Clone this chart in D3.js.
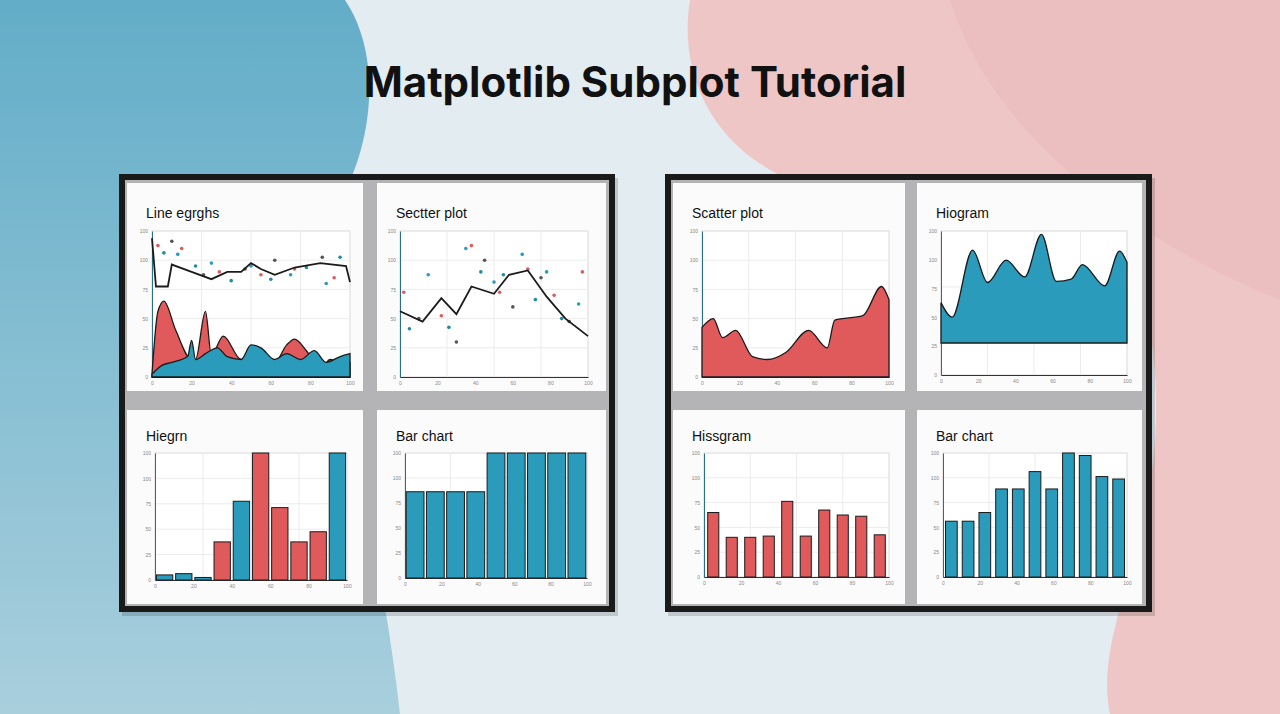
<!DOCTYPE html><html><head><meta charset="utf-8">
<script src="https://cdn.jsdelivr.net/npm/d3@7"></script>
<style>body{margin:0;overflow:hidden}svg{display:block}</style></head><body>
<svg id="c" width="1280" height="714"></svg>
<script>
const title="Matplotlib Subplot Tutorial";
const panelTitles=["Line egrghs","Sectter plot","Hiegrn","Bar chart","Scatter plot","Hiogram","Hissgram","Bar chart"];
// Line panel
const lineX=[0,0.02,0.08,0.1,0.2,0.3,0.38,0.45,0.5,0.55,0.62,0.72,0.85,0.98,1];
const lineY=[95,62,62,77,72,67,72,72,78,74,70,75,78,76,65];
const redX=[0,0.03,0.06,0.12,0.2,0.22,0.27,0.3,0.36,0.45,0.5,0.62,0.68,0.72,0.78,0.85,0.9,0.95,1];
const redY=[2,45,52,32,12,12,45,15,28,12,18,10,22,26,18,5,12,10,10];
const blueX=[0,0.05,0.1,0.18,0.2,0.22,0.27,0.33,0.38,0.45,0.5,0.55,0.62,0.68,0.75,0.82,0.88,0.95,1];
const blueY=[2,8,10,14,25,12,16,20,14,12,22,20,12,16,12,18,10,14,16];
const dotsX=[0.03,0.06,0.1,0.13,0.15,0.22,0.26,0.3,0.34,0.4,0.47,0.5,0.55,0.6,0.62,0.7,0.72,0.78,0.86,0.88,0.92,0.95];
const dotsY=[90,85,93,84,88,76,70,78,72,66,74,76,70,67,80,70,74,75,82,64,68,82];
// Scatter panel
const scX=[0,0.12,0.22,0.3,0.38,0.5,0.58,0.68,0.78,0.88,1];
const scY=[45,38,54,43,62,57,70,73,55,40,28];
const sdX=[0.02,0.05,0.1,0.15,0.22,0.26,0.3,0.35,0.38,0.43,0.45,0.5,0.53,0.55,0.6,0.65,0.68,0.72,0.75,0.78,0.82,0.86,0.9,0.95,0.97];
const sdY=[58,33,40,70,42,34,24,88,90,72,80,65,58,70,48,84,74,53,68,72,56,40,38,50,72];
// Right area panels
const raX=[0,0.06,0.11,0.18,0.27,0.35,0.45,0.57,0.67,0.71,0.86,0.96,1];
const raY=[34,40,27,32,14,12,17,32,20,39,42,62,53];
const baX=[0,0.06,0.17,0.25,0.35,0.45,0.54,0.62,0.7,0.76,0.88,0.96,1];
const baY=[36,23,83,54,74,59,97,55,57,70,51,82,72];
// Bars
const h1=[4,5,2,30,62,100,57,30,38,100];
const h1c=["b","b","b","r","b","r","r","r","r","b"];
const b1=[69,69,69,69,100,100,100,100,100];
const h2=[52,32,32,33,61,33,54,50,49,34];
const b2=[45,45,52,71,71,85,71,100,98,81,79];
const yTicks=["0","25","50","75","100"];

const RED="#e05a5c",BLUE="#2a9bba",INK="#1b1b1b";
const svg=d3.select("#c");
const defs=svg.append("defs");
svg.append("rect").attr("width",1280).attr("height",714).attr("fill","#e3ecf1");
const g1=defs.append("linearGradient").attr("id","gb").attr("x1",0).attr("y1",0).attr("x2",0).attr("y2",1);
g1.append("stop").attr("offset",0).attr("stop-color","#63adc8");g1.append("stop").attr("offset",1).attr("stop-color","#a9cfdd");
svg.append("path").attr("d","M0,0 L345,0 C385,60 370,150 340,200 C300,300 370,450 400,714 L0,714Z").attr("fill","url(#gb)");
svg.append("path").attr("d","M690,0 L1280,0 L1280,714 L1110,714 C1090,620 1180,520 1150,330 C1120,220 900,220 790,180 C700,140 680,60 690,0Z").attr("fill","#efc6c6");
svg.append("path").attr("d","M950,0 L1280,0 L1280,300 C1180,260 1000,160 950,0Z").attr("fill","#e8b9ba").attr("opacity",0.6);
svg.append("text").attr("x",635).attr("y",97).attr("text-anchor","middle").attr("font-family","Inter, Liberation Sans, sans-serif").attr("font-weight",700).attr("font-size",42).attr("fill","#111").text(title);

function frame(x,y,w,h){
  svg.append("rect").attr("x",x+3).attr("y",y+4).attr("width",w).attr("height",h).attr("fill","#000").attr("opacity",0.15);
  svg.append("rect").attr("x",x).attr("y",y).attr("width",w).attr("height",h).attr("fill","#1a1a1a");
  svg.append("rect").attr("x",x+6).attr("y",y+6).attr("width",w-12).attr("height",h-12).attr("fill","#b4b4b6");
}
frame(119,174,496,438);frame(665,174,487,438);
const panels=[
 {x:127,y:183,w:236,h:208,plot:[152,231,350,377]},
 {x:377,y:183,w:229,h:208,plot:[400,231,588,377]},
 {x:127,y:410,w:236,h:194,plot:[155,453,347,580]},
 {x:377,y:410,w:229,h:194,plot:[405,453,587,578]},
 {x:673,y:183,w:232,h:208,plot:[702,231,889,377]},
 {x:917,y:183,w:225,h:208,plot:[941,231,1127,375]},
 {x:673,y:410,w:232,h:194,plot:[704,453,889,577]},
 {x:917,y:410,w:225,h:194,plot:[943,453,1127,577]}];
panels.forEach((p,i)=>{
  svg.append("rect").attr("x",p.x).attr("y",p.y).attr("width",p.w).attr("height",p.h).attr("fill","#fbfbfb");
  svg.append("text").attr("x",p.x+19).attr("y",p.y+(i<2||i==4||i==5?35:31)).attr("font-family","Liberation Sans, sans-serif").attr("font-weight",500).attr("font-size",14).attr("fill","#111").text(panelTitles[i]);
  const [x0,y0,x1,y1]=p.plot;
  const g=svg.append("g");
  g.append("rect").attr("x",x0).attr("y",y0).attr("width",x1-x0).attr("height",y1-y0).attr("fill","#fff").attr("stroke","#d8d8d8");
  p.xs=d3.scaleLinear().domain([0,1]).range([x0,x1]);
  p.ys=d3.scaleLinear().domain(i==5?[-28.6,100]:[0,100]).range([y1,y0]);
  [0.25,0.5,0.75].forEach(t=>{g.append("line").attr("x1",p.xs(t)).attr("x2",p.xs(t)).attr("y1",y0).attr("y2",y1).attr("stroke","#ececec");});
  p.ys.ticks(4).forEach(t=>{g.append("line").attr("x1",x0).attr("x2",x1).attr("y1",p.ys(t)).attr("y2",p.ys(t)).attr("stroke","#ececec");});
  const ax=d3.axisLeft(d3.scaleLinear().domain([0,100]).range([y1,y0])).ticks(4).tickSize(0).tickPadding(4).tickFormat((d,k)=>yTicks[k]||d);
  const ag=g.append("g").attr("transform",`translate(${x0},0)`).call(ax);
  ag.select(".domain").attr("stroke","#2b6f84");
  ag.selectAll("text").attr("font-size",5).attr("fill","#888");
  const bx=d3.axisBottom(d3.scaleLinear().domain([0,100]).range([x0,x1])).ticks(6).tickSize(0).tickPadding(4);
  const bg=g.append("g").attr("transform",`translate(0,${y1})`).call(bx);
  bg.select(".domain").attr("stroke","#333");
  bg.selectAll("text").attr("font-size",5).attr("fill","#888");
  p.g=g;
});
const zip=(a,b)=>a.map((v,i)=>[v,b[i]]);
function area(p,xs,ys,col){
  const a=d3.area().x(d=>p.xs(d[0])).y0(p.ys(0)).y1(d=>p.ys(d[1])).curve(d3.curveMonotoneX);
  p.g.append("path").attr("d",a(zip(xs,ys))).attr("fill",col).attr("stroke",INK).attr("stroke-width",1.3);
}
function line(p,xs,ys){
  const l=d3.line().x(d=>p.xs(d[0])).y(d=>p.ys(d[1]));
  p.g.append("path").attr("d",l(zip(xs,ys))).attr("fill","none").attr("stroke",INK).attr("stroke-width",1.8);
}
function dots(p,xs,ys){
  zip(xs,ys).forEach((d,i)=>p.g.append("circle").attr("cx",p.xs(d[0])).attr("cy",p.ys(d[1])).attr("r",1.8).attr("fill",[RED,"#1d8f9a","#555",BLUE][i%4]));
}
area(panels[0],redX,redY,RED);area(panels[0],blueX,blueY,BLUE);dots(panels[0],dotsX,dotsY);line(panels[0],lineX,lineY);
dots(panels[1],sdX,sdY);line(panels[1],scX,scY);
area(panels[4],raX,raY,RED);area(panels[5],baX,baY,BLUE);
function bars(p,vals,cols,pad){
  const bs=d3.scaleBand().domain(d3.range(vals.length)).range(p.xs.range()).paddingInner(pad).paddingOuter(pad/2);
  vals.forEach((v,i)=>p.g.append("rect").attr("x",bs(i)).attr("y",p.ys(v)).attr("width",bs.bandwidth()).attr("height",p.ys(0)-p.ys(v))
    .attr("fill",cols? (cols[i]=="r"?RED:BLUE):cols===null?RED:BLUE).attr("stroke",INK).attr("stroke-width",1));
}
bars(panels[2],h1,h1c,0.15);
bars(panels[3],b1,undefined,0.12);
bars(panels[6],h2,null,0.4);
bars(panels[7],b2,undefined,0.3);
</script></body></html>
